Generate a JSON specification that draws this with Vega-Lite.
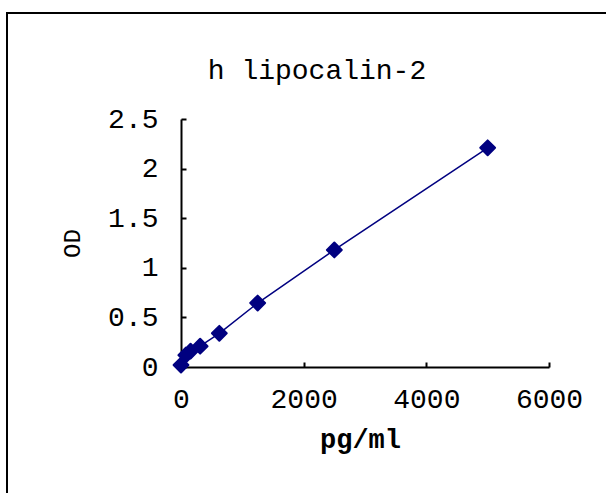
{
  "$schema": "https://vega.github.io/schema/vega-lite/v6.json",
  "autosize": {"type": "none"},
  "padding": {"left": 7, "top": 13, "right": 0, "bottom": 0},
  "width": 620,
  "height": 500,
  "background": "white",
  "config": {
    "view": {"stroke": "black", "strokeWidth": 2, "fill": "white"},
    "axis": {
      "grid": false,
      "domainColor": "black",
      "domainWidth": 2,
      "tickColor": "black",
      "tickWidth": 2,
      "tickSize": -5,
      "labelFont": "Liberation Mono",
      "labelFontSize": 28,
      "labelColor": "black",
      "labelOverlap": false,
      "labelFlush": false,
      "titleFont": "Liberation Mono",
      "titleColor": "black"
    }
  },
  "title": {
    "text": "h lipocalin-2",
    "font": "Liberation Mono",
    "fontSize": 28,
    "fontWeight": "normal",
    "color": "black",
    "anchor": "middle",
    "frame": "group",
    "baseline": "alphabetic",
    "offset": -94
  },
  "data": {
    "values": [
      {"conc": 0, "od": 0.02},
      {"conc": 78, "od": 0.12},
      {"conc": 156, "od": 0.16},
      {"conc": 312, "od": 0.21},
      {"conc": 625, "od": 0.34},
      {"conc": 1250, "od": 0.645},
      {"conc": 2500, "od": 1.18},
      {"conc": 5000, "od": 2.21}
    ]
  },
  "encoding": {
    "x": {
      "field": "conc",
      "type": "quantitative",
      "scale": {"domain": [0, 6000], "range": [174, 542], "nice": false, "zero": false},
      "axis": {
        "orient": "bottom",
        "offset": -146,
        "values": [0, 2000, 4000, 6000],
        "format": "d",
        "labelPadding": 23,
        "title": "pg/ml",
        "titleFontSize": 27,
        "titleFontWeight": "bold",
        "titleX": 353,
        "titleY": 80,
        "titleAlign": "center",
        "titleBaseline": "alphabetic"
      }
    },
    "y": {
      "field": "od",
      "type": "quantitative",
      "scale": {"domain": [0, 2.5], "range": [354, 106], "nice": false, "zero": false},
      "axis": {
        "orient": "left",
        "offset": -174,
        "values": [0, 0.5, 1, 1.5, 2, 2.5],
        "format": ".1~f",
        "labelPadding": 28,
        "title": "OD",
        "titleFontSize": 24,
        "titleFontWeight": "normal",
        "titleAngle": -90,
        "titleX": -109,
        "titleY": 230,
        "titleAlign": "center",
        "titleBaseline": "middle"
      }
    }
  },
  "layer": [
    {"mark": {"type": "line", "color": "#000080", "strokeWidth": 1.5}},
    {"mark": {"type": "point", "shape": "diamond", "filled": true, "color": "#000080", "size": 220, "stroke": "#000080", "strokeWidth": 2, "strokeJoin": "round", "opacity": 1}}
  ]
}
